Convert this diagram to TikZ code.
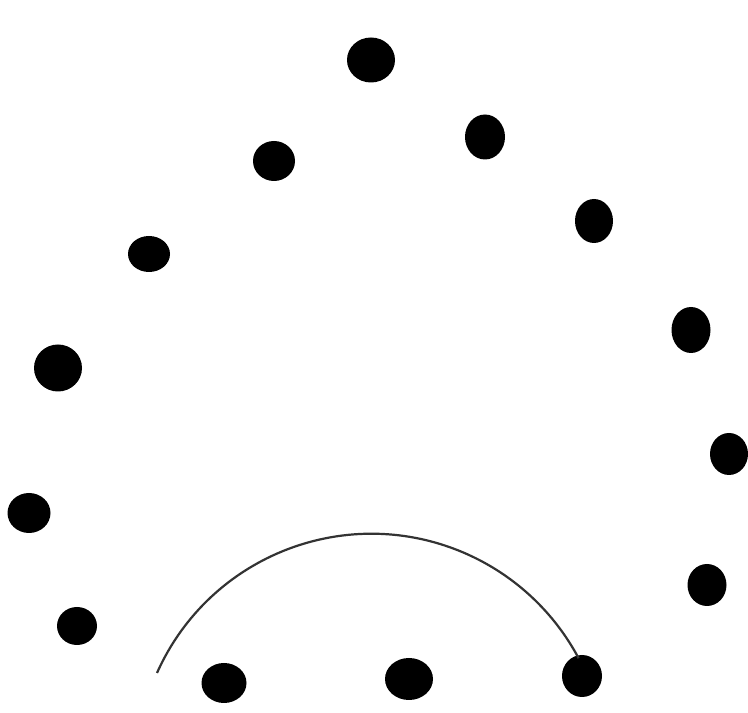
\documentclass[tikz,border=0pt]{standalone}
\usetikzlibrary{shapes.geometric}
\begin{document}
\begin{tikzpicture}[x=1pt,y=1pt,
  dot/.style={ellipse,fill=black,inner sep=0pt,outer sep=0pt},
  arcline/.style={draw=black!80,line width=2.2pt}]
\useasboundingbox (0,0) rectangle (748,713);
\fill[white] (0,0) rectangle (748,713);
\node[dot,minimum width=48pt,minimum height=45pt] (d1) at (371,653) {};
\node[dot,minimum width=40pt,minimum height=45pt] (d2) at (485,576) {};
\node[dot,minimum width=42pt,minimum height=40pt] (d3) at (274,552) {};
\node[dot,minimum width=38pt,minimum height=44pt] (d4) at (594,492) {};
\node[dot,minimum width=42pt,minimum height=36pt] (d5) at (149,459) {};
\node[dot,minimum width=39pt,minimum height=46pt] (d6) at (691,383) {};
\node[dot,minimum width=48pt,minimum height=47pt] (d7) at (58,345) {};
\node[dot,minimum width=38pt,minimum height=42pt] (d8) at (729,259) {};
\node[dot,minimum width=43pt,minimum height=40pt] (d9) at (29,200) {};
\node[dot,minimum width=39pt,minimum height=42pt] (d10) at (707,128) {};
\node[dot,minimum width=40pt,minimum height=38pt] (d11) at (77,87) {};
\node[dot,minimum width=45pt,minimum height=40pt] (d12) at (224,30) {};
\node[dot,minimum width=48pt,minimum height=42pt] (d13) at (409,34) {};
\node[dot,minimum width=40pt,minimum height=42pt] (d14) at (582,37) {};
\coordinate (arcstart) at (157,40);
\draw[arcline] (arcstart) arc[start angle=156, end angle=28, radius=234.7pt];
\end{tikzpicture}
\end{document}
